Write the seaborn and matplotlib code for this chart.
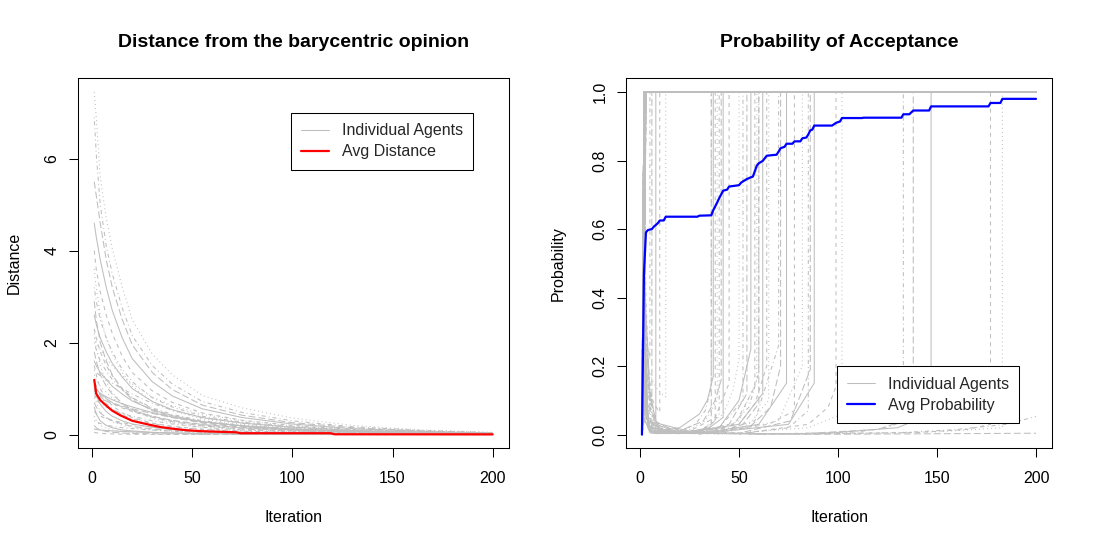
import pandas as pd
import matplotlib.pyplot as plt
import seaborn as sns
from matplotlib.lines import Line2D

sns.set_theme(style="white")
plt.rcParams["font.family"] = ["Liberation Sans", "DejaVu Sans"]
plt.rcParams["lines.scale_dashes"] = False

GRAY = "#BEBEBE"
FS = 11.52

# ---------------- Daten: Abstand zur baryzentrischen Meinung ----------------
dist_iters = [1, 2, 4, 7, 10, 15, 20, 30, 40, 55, 75, 100, 130, 165, 200]
dist_agents = [
    [7.45, 6.9, 5.6, 4.7, 4.05, 3.2, 2.5, 1.75, 1.3, 0.85, 0.58, 0.36, 0.2, 0.1, 0.05],
    [6.9, 6.1, 5.0, 4.1, 3.5, 2.75, 2.15, 1.5, 1.1, 0.72, 0.48, 0.3, 0.17, 0.09, 0.04],
    [5.5, 5.2, 4.6, 3.8, 3.2, 2.5, 1.95, 1.35, 0.98, 0.64, 0.42, 0.26, 0.15, 0.08, 0.04],
    [4.6, 4.3, 3.8, 3.2, 2.7, 2.1, 1.65, 1.15, 0.84, 0.56, 0.37, 0.23, 0.13, 0.07, 0.03],
    [4.0, 3.6, 3.1, 2.6, 2.2, 1.7, 1.35, 0.95, 0.7, 0.47, 0.31, 0.2, 0.11, 0.06, 0.03],
    [3.6, 3.2, 2.6, 2.1, 1.75, 1.35, 1.05, 0.72, 0.52, 0.34, 0.22, 0.14, 0.08, 0.04, 0.02],
    [3.2, 2.9, 2.5, 2.1, 1.8, 1.42, 1.15, 0.8, 0.6, 0.4, 0.27, 0.17, 0.1, 0.05, 0.02],
    [2.9, 2.5, 2.0, 1.6, 1.3, 0.98, 0.76, 0.52, 0.38, 0.25, 0.16, 0.1, 0.06, 0.03, 0.01],
    [2.6, 2.4, 2.1, 1.8, 1.55, 1.25, 1.0, 0.72, 0.54, 0.37, 0.25, 0.16, 0.09, 0.05, 0.02],
    [2.3, 2.1, 1.8, 1.5, 1.28, 1.0, 0.8, 0.56, 0.41, 0.28, 0.18, 0.11, 0.06, 0.03, 0.015],
    [2.2, 1.9, 1.5, 1.15, 0.92, 0.68, 0.52, 0.35, 0.25, 0.16, 0.1, 0.06, 0.035, 0.02, 0.01],
    [2.0, 1.85, 1.6, 1.38, 1.2, 0.97, 0.8, 0.58, 0.44, 0.3, 0.2, 0.13, 0.07, 0.04, 0.02],
    [1.8, 1.6, 1.3, 1.05, 0.88, 0.68, 0.54, 0.38, 0.28, 0.19, 0.12, 0.08, 0.045, 0.025, 0.01],
    [1.6, 1.5, 1.35, 1.2, 1.05, 0.88, 0.73, 0.54, 0.41, 0.28, 0.19, 0.12, 0.07, 0.04, 0.02],
    [1.5, 1.3, 1.0, 0.78, 0.63, 0.47, 0.37, 0.25, 0.18, 0.12, 0.08, 0.05, 0.03, 0.015, 0.01],
    [1.3, 1.2, 1.05, 0.92, 0.8, 0.66, 0.55, 0.4, 0.3, 0.21, 0.14, 0.09, 0.05, 0.03, 0.015],
    [1.2, 1.05, 0.85, 0.68, 0.56, 0.43, 0.34, 0.24, 0.17, 0.11, 0.07, 0.045, 0.025, 0.015, 0.01],
    [1.1, 1.0, 0.88, 0.78, 0.7, 0.6, 0.52, 0.4, 0.31, 0.22, 0.15, 0.1, 0.06, 0.035, 0.02],
    [1.0, 0.85, 0.66, 0.5, 0.4, 0.3, 0.23, 0.16, 0.11, 0.07, 0.045, 0.03, 0.015, 0.01, 0.005],
    [0.95, 0.9, 0.82, 0.74, 0.67, 0.58, 0.5, 0.38, 0.3, 0.21, 0.14, 0.09, 0.05, 0.03, 0.015],
    [0.9, 0.7, 0.5, 0.36, 0.28, 0.2, 0.15, 0.1, 0.07, 0.045, 0.03, 0.02, 0.01, 0.005, 0.003],
    [0.8, 0.75, 0.68, 0.6, 0.54, 0.46, 0.4, 0.3, 0.23, 0.16, 0.1, 0.065, 0.04, 0.02, 0.01],
    [0.7, 0.6, 0.47, 0.37, 0.3, 0.23, 0.18, 0.12, 0.09, 0.06, 0.04, 0.025, 0.015, 0.008, 0.004],
    [0.6, 0.45, 0.3, 0.2, 0.15, 0.1, 0.08, 0.05, 0.035, 0.025, 0.015, 0.01, 0.005, 0.003, 0.001],
    [0.5, 0.46, 0.4, 0.35, 0.31, 0.26, 0.22, 0.16, 0.12, 0.08, 0.05, 0.035, 0.02, 0.01, 0.005],
    [0.4, 0.3, 0.2, 0.14, 0.1, 0.07, 0.05, 0.035, 0.025, 0.015, 0.01, 0.006, 0.004, 0.002, 0.001],
    [0.3, 0.28, 0.24, 0.21, 0.18, 0.15, 0.13, 0.1, 0.07, 0.05, 0.03, 0.02, 0.012, 0.007, 0.003],
    [0.2, 0.15, 0.1, 0.07, 0.05, 0.035, 0.025, 0.017, 0.012, 0.008, 0.005, 0.003, 0.002, 0.001, 0.0],
    [0.12, 0.11, 0.1, 0.09, 0.08, 0.07, 0.06, 0.045, 0.035, 0.025, 0.016, 0.01, 0.006, 0.003, 0.002],
    [0.05, 0.04, 0.03, 0.02, 0.015, 0.01, 0.008, 0.005, 0.004, 0.003, 0.002, 0.001, 0.0, 0.0, 0.0],
    [2.1, 2.0, 1.85, 1.65, 1.5, 1.28, 1.1, 0.82, 0.63, 0.44, 0.3, 0.19, 0.11, 0.06, 0.03],
    [1.4, 1.35, 1.28, 1.2, 1.12, 1.0, 0.88, 0.68, 0.53, 0.37, 0.25, 0.16, 0.09, 0.05, 0.025],
    [0.85, 0.82, 0.78, 0.73, 0.68, 0.62, 0.56, 0.46, 0.37, 0.27, 0.18, 0.12, 0.07, 0.04, 0.02],
    [1.05, 0.98, 0.9, 0.82, 0.76, 0.67, 0.6, 0.48, 0.38, 0.28, 0.19, 0.12, 0.07, 0.04, 0.02],
]
avg_dist_iters = [1, 2, 4, 7, 10, 14, 17, 20, 24, 29, 34, 40, 47, 55, 72, 74, 119, 121, 200]
avg_dist = [1.19, 0.89, 0.75, 0.63, 0.52, 0.42, 0.36, 0.30, 0.26, 0.21, 0.165, 0.13,
            0.095, 0.073, 0.05, 0.03, 0.03, 0.007, 0.005]

# ---------------- Daten: Akzeptanzwahrscheinlichkeit ----------------
# frühe Agenten: Wert in Iteration 2, danach akzeptiert (1.0)
early_p2 = [1.0, 0.92, 1.0, 0.35, 1.0, 0.78, 1.0, 1.0, 0.12, 1.0, 0.55, 1.0, 0.97, 1.0,
            0.26, 1.0, 1.0, 0.64, 1.0, 0.08, 1.0, 0.88, 1.0, 0.45, 1.0, 1.0, 0.71, 1.0,
            0.18, 1.0, 0.99, 1.0, 0.52, 1.0, 0.31, 1.0, 1.0, 0.83, 1.0, 0.04, 1.0, 0.6,
            1.0, 0.95, 1.0, 0.22, 1.0, 1.0, 0.4, 1.0, 0.68, 1.0, 0.15, 1.0, 0.86, 1.0,
            1.0, 0.5]
# späte Agenten: Stützpunkte (Iteration, Wert) bis zum Sprung auf 1.0
late_agents = [
    [(1, 0), (2, 0.42), (3, 0.3), (5, 0.22)],
    [(1, 0), (2, 0.3), (4, 0.15), (6, 0.08)],
    [(1, 0), (2, 0.5), (3, 0.35), (5, 0.12), (8, 0.04)],
    [(1, 0), (2, 0.25), (4, 0.15), (7, 0.09), (10, 0.065)],
    [(1, 0), (2, 0.3), (4, 0.2), (6, 0.16), (9, 0.13), (13, 0.11)],
    [(1, 0), (2, 0.2), (3, 0.08), (5, 0.02), (10, 0.005), (20, 0.01), (28, 0.03), (33, 0.07), (36, 0.14)],
    [(1, 0), (2, 0.6), (3, 0.3), (5, 0.08), (10, 0.015), (20, 0.005), (30, 0.01), (36, 0.03)],
    [(1, 0), (2, 0.15), (4, 0.03), (8, 0.01), (20, 0.02), (30, 0.06), (34, 0.1), (37, 0.17)],
    [(1, 0), (2, 0.4), (3, 0.12), (6, 0.02), (15, 0.003), (30, 0.01), (38, 0.04)],
    [(1, 0), (2, 0.1), (4, 0.02), (12, 0.004), (25, 0.015), (33, 0.04), (39, 0.1)],
    [(1, 0), (2, 0.7), (3, 0.4), (5, 0.1), (10, 0.01), (25, 0.005), (35, 0.02), (40, 0.06)],
    [(1, 0), (2, 0.25), (3, 0.06), (8, 0.008), (20, 0.01), (32, 0.04), (38, 0.1), (41, 0.16)],
    [(1, 0), (2, 0.05), (5, 0.005), (20, 0.003), (35, 0.02), (42, 0.05)],
    [(1, 0), (2, 0.3), (4, 0.05), (10, 0.005), (25, 0.01), (38, 0.05), (45, 0.15)],
    [(1, 0), (2, 0.18), (4, 0.03), (12, 0.005), (30, 0.01), (42, 0.06), (47, 0.13), (50, 0.22)],
    [(1, 0), (2, 0.5), (3, 0.2), (6, 0.02), (20, 0.002), (40, 0.02), (52, 0.1)],
    [(1, 0), (2, 0.08), (5, 0.01), (25, 0.003), (45, 0.03), (54, 0.12)],
    [(1, 0), (2, 0.35), (4, 0.04), (15, 0.003), (40, 0.02), (50, 0.1), (56, 0.25)],
    [(1, 0), (2, 0.12), (5, 0.01), (30, 0.002), (48, 0.03), (58, 0.14)],
    [(1, 0), (2, 0.45), (3, 0.15), (8, 0.01), (35, 0.005), (50, 0.04), (59, 0.16)],
    [(1, 0), (2, 0.22), (4, 0.03), (20, 0.003), (45, 0.02), (55, 0.08), (60, 0.18)],
    [(1, 0), (2, 0.06), (6, 0.005), (40, 0.005), (52, 0.03), (60, 0.09)],
    [(1, 0), (2, 0.3), (4, 0.04), (20, 0.004), (50, 0.03), (62, 0.12)],
    [(1, 0), (2, 0.15), (5, 0.02), (25, 0.003), (50, 0.03), (58, 0.09), (64, 0.2)],
    [(1, 0), (2, 0.55), (3, 0.2), (7, 0.01), (40, 0.003), (55, 0.03), (65, 0.1)],
    [(1, 0), (2, 0.1), (5, 0.01), (35, 0.002), (58, 0.04), (70, 0.26)],
    [(1, 0), (2, 0.38), (4, 0.05), (20, 0.003), (55, 0.02), (66, 0.08), (71, 0.2)],
    [(1, 0), (2, 0.2), (4, 0.02), (30, 0.003), (60, 0.03), (74, 0.15)],
    [(1, 0), (2, 0.28), (4, 0.03), (30, 0.002), (65, 0.03), (78, 0.07)],
    [(1, 0), (2, 0.12), (5, 0.01), (40, 0.003), (70, 0.04), (82, 0.2)],
    [(1, 0), (2, 0.65), (3, 0.25), (8, 0.01), (50, 0.002), (75, 0.02), (85, 0.07)],
    [(1, 0), (2, 0.04), (8, 0.003), (50, 0.004), (76, 0.04), (86, 0.19)],
    [(1, 0), (2, 0.33), (4, 0.04), (30, 0.002), (75, 0.03), (88, 0.15)],
    [(1, 0), (2, 0.18), (5, 0.01), (50, 0.002), (85, 0.03), (95, 0.08), (99, 0.14)],
    [(1, 0), (2, 0.26), (4, 0.02), (40, 0.001), (85, 0.02), (102, 0.06)],
    [(1, 0), (2, 0.14), (5, 0.01), (60, 0.001), (110, 0.008), (125, 0.02), (133, 0.04)],
    [(1, 0), (2, 0.48), (3, 0.1), (10, 0.004), (80, 0.002), (120, 0.015), (138, 0.05)],
    [(1, 0), (2, 0.09), (6, 0.005), (90, 0.002), (130, 0.02), (147, 0.06)],
    [(1, 0), (2, 0.3), (4, 0.02), (60, 0.001), (140, 0.006), (165, 0.015), (177, 0.03)],
    [(1, 0), (2, 0.2), (5, 0.01), (80, 0.001), (150, 0.008), (183, 0.02)],
]
# Agenten ohne Akzeptanz bis Iteration 200
never_agents = [
    [(1, 0), (2, 0.16), (5, 0.01), (60, 0.001), (130, 0.005), (160, 0.015), (185, 0.03), (200, 0.053)],
    [(1, 0), (2, 0.07), (6, 0.004), (100, 0.001), (200, 0.004)],
]
avg_prob_iters = [1, 2, 3, 4, 6, 7, 9, 10, 12, 13, 29, 30, 36, 37, 38, 40, 42, 44, 45, 50,
                  51, 52, 54, 56, 57, 59, 60, 62, 64, 69, 70, 71, 73, 74, 77, 78, 81, 82,
                  84, 85, 86, 87, 88, 97, 99, 101, 102, 112, 113, 132, 133, 136, 138, 146,
                  147, 176, 177, 182, 183, 200]
avg_prob = [0.0, 0.47, 0.59, 0.597, 0.6, 0.607, 0.617, 0.625, 0.625, 0.636, 0.636, 0.639,
            0.64, 0.655, 0.666, 0.69, 0.712, 0.715, 0.724, 0.728, 0.735, 0.739, 0.746,
            0.751, 0.753, 0.785, 0.792, 0.799, 0.814, 0.817, 0.826, 0.836, 0.84, 0.849,
            0.849, 0.856, 0.856, 0.865, 0.867, 0.876, 0.888, 0.89, 0.902, 0.902, 0.91,
            0.914, 0.924, 0.924, 0.925, 0.925, 0.935, 0.935, 0.946, 0.946, 0.958, 0.958,
            0.968, 0.968, 0.98, 0.98]

LTY_CYCLE = ["solid", "dashed", "dotted", "dotdash", "longdash"]
DASHES = {"solid": "", "dashed": (2.9, 2.9), "dotted": (0.7, 2.2),
          "dotdash": (0.7, 2.2, 2.9, 2.2), "longdash": (5.0, 2.2)}

# Tabellen im Langformat
rows = []
for k, vals in enumerate(dist_agents):
    for it, v in zip(dist_iters, vals):
        rows.append((k, it, v, LTY_CYCLE[(k + 2) % 5]))
dist_df = pd.DataFrame(rows, columns=["agent", "iteration", "value", "lty"])

paths = [[(1, 0.0), (2, v), (3, 1.0), (200, 1.0)] for v in early_p2]
paths += [knots + [(knots[-1][0], 1.0), (200, 1.0)] for knots in late_agents]
paths += never_agents
rows = []
for k, pts in enumerate(paths):
    for it, v in pts:
        rows.append((k, it, v, LTY_CYCLE[k % 5]))
prob_df = pd.DataFrame(rows, columns=["agent", "iteration", "value", "lty"])

fig = plt.figure(figsize=(10.93, 5.46), dpi=100)
ax1 = fig.add_axes([78.3 / 1093, 1 - 448.3 / 546, 430.3 / 1093, 370 / 546])
ax2 = fig.add_axes([626.2 / 1093, 1 - 448.3 / 546, 425.6 / 1093, 370 / 546])

sns.lineplot(data=dist_df, x="iteration", y="value", units="agent", estimator=None,
             style="lty", dashes=DASHES, color=GRAY, linewidth=0.75, sort=False,
             legend=False, ax=ax1)
sns.lineplot(x=avg_dist_iters, y=avg_dist, color="#FF0000", linewidth=1.6, ax=ax1)

sns.lineplot(data=prob_df, x="iteration", y="value", units="agent", estimator=None,
             style="lty", dashes=DASHES, color=GRAY, linewidth=0.75, sort=False,
             legend=False, ax=ax2)
sns.lineplot(x=avg_prob_iters, y=avg_prob, color="#0000FF", linewidth=1.6, ax=ax2)

xr = (1 - 0.04 * 199, 200 + 0.04 * 199)
setup = [
    (ax1, "Distance from the barycentric opinion", "Distance", (-0.298, 7.748),
     [0, 2, 4, 6], ["0", "2", "4", "6"], -0.1308),
    (ax2, "Probability of Acceptance", "Probability", (-0.04, 1.04),
     [0, 0.2, 0.4, 0.6, 0.8, 1.0], ["0.0", "0.2", "0.4", "0.6", "0.8", "1.0"], -0.1417),
]
for ax, title, ylab, yl, yt, ytl, ylx in setup:
    ax.set_xlim(*xr)
    ax.set_ylim(*yl)
    ax.set_xticks([0, 50, 100, 150, 200], ["0", "50", "100", "150", "200"])
    ax.set_yticks(yt, ytl, rotation=90, va="center")
    ax.tick_params(axis="both", direction="out", length=6.7, width=0.75, color="black",
                   labelsize=FS, labelcolor="black", bottom=True, left=True)
    ax.tick_params(axis="x", pad=9.6)
    ax.tick_params(axis="y", pad=6.9)
    for sp in ax.spines.values():
        sp.set_color("black")
        sp.set_linewidth(0.75)
    ax.set_title(title, fontsize=14.0, fontweight="bold", pad=22.7, color="black")
    ax.set_xlabel("Iteration", fontsize=FS, color="black")
    ax.set_ylabel(ylab, fontsize=FS, color="black")
    ax.xaxis.set_label_coords(0.5, -0.166)
    ax.yaxis.set_label_coords(ylx, 0.5)

legend_specs = [
    (ax1, "#FF0000", "Avg Distance", "upper right", (473.3 / 1093, 1 - 112.7 / 546)),
    (ax2, "#0000FF", "Avg Probability", "lower right", (1019.3 / 1093, 1 - 423.3 / 546)),
]
for ax, col, lab, loc, anchor in legend_specs:
    handles = [Line2D([], [], color=GRAY, lw=0.75), Line2D([], [], color=col, lw=1.6)]
    leg = ax.legend(handles, ["Individual Agents", lab], loc=loc, bbox_to_anchor=anchor,
                    bbox_transform=fig.transFigure, borderaxespad=0, frameon=True,
                    fancybox=False, framealpha=1, edgecolor="black", fontsize=FS,
                    borderpad=0.65, handlelength=1.75, handletextpad=0.8,
                    labelspacing=0.38)
    leg.get_frame().set_linewidth(0.75)

fig.savefig("out.png", dpi=100)
plt.close(fig)
